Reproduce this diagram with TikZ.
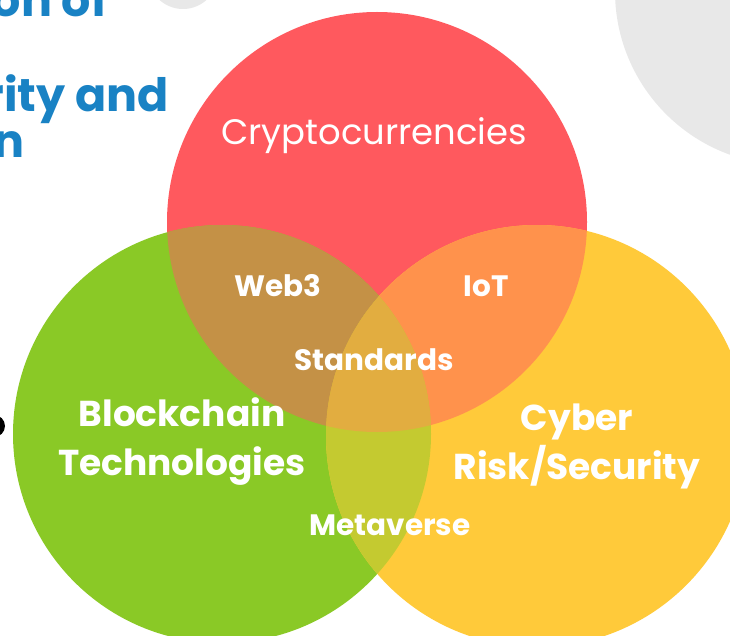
\documentclass[tikz,border=0pt]{standalone}
\usepackage{fontspec}
\setmainfont{Poppins}
\definecolor{cred}{HTML}{FF595E}
\definecolor{cgreen}{HTML}{8AC926}
\definecolor{cyellow}{HTML}{FFCA3A}
\definecolor{crg}{RGB}{196,145,70}
\definecolor{cry}{RGB}{255,146,76}
\definecolor{cgy}{RGB}{196,202,48}
\definecolor{crgy}{RGB}{226,173,64}
\definecolor{cgray}{HTML}{E8E8E8}
\definecolor{cblue}{HTML}{1982C4}
\tikzset{
  biglabel/.style={text=white, font=\bfseries\fontsize{36}{49}\selectfont, align=center, inner sep=0pt},
  smalllabel/.style={text=white, font=\bfseries\fontsize{29.5}{34}\selectfont, inner sep=0pt},
  titletext/.style={text=cblue, font=\bfseries\fontsize{46}{47}\selectfont, inner sep=0pt, anchor=base east}
}
\begin{document}
\begin{tikzpicture}[x=1pt,y=-1pt]
\useasboundingbox (0,0) rectangle (730,636);
\begin{scope}
\clip (0,0) rectangle (730,636);
\fill[white] (0,0) rectangle (730,636);
% background decorations
\fill[cgray] (789,-9) circle[radius=174pt];
\fill[cgray] (183,-26) circle[radius=35pt];
\fill[black] (-6,426) circle[radius=11pt];
% title fragments
\node[titletext] (t1) at (108,17) {on of};
\node[titletext] (t2) at (169,112) {rity and};
\node[titletext] (t3) at (25,158) {n};
% circles
\fill[cred] (377,222) circle[radius=210pt];
\fill[cgreen] (222,434) circle[radius=209pt];
\fill[cyellow] (537,436) circle[radius=211pt];
\begin{scope}
  \clip (377,222) circle[radius=210pt];
  \fill[crg] (222,434) circle[radius=209pt];
  \fill[cry] (537,436) circle[radius=211pt];
\end{scope}
\begin{scope}
  \clip (222,434) circle[radius=209pt];
  \fill[cgy] (537,436) circle[radius=211pt];
  \clip (537,436) circle[radius=211pt];
  \fill[crgy] (377,222) circle[radius=210pt];
\end{scope}
% labels
\node[text=white, font=\fontsize{35.4}{40}\selectfont, inner sep=0pt] (crypto) at (374,136) {Cryptocurrencies};
\node[biglabel] (block) at (182,442) {Blockchain\\Technologies};
\node[biglabel] (cyber) at (577,446) {Cyber\\Risk/Security};
\node[smalllabel] (web3) at (278,286) {Web3};
\node[smalllabel] (iot) at (486,286) {IoT};
\node[smalllabel] (std) at (374,360) {Standards};
\node[smalllabel] (meta) at (390,525) {Metaverse};
\end{scope}
\end{tikzpicture}
\end{document}
